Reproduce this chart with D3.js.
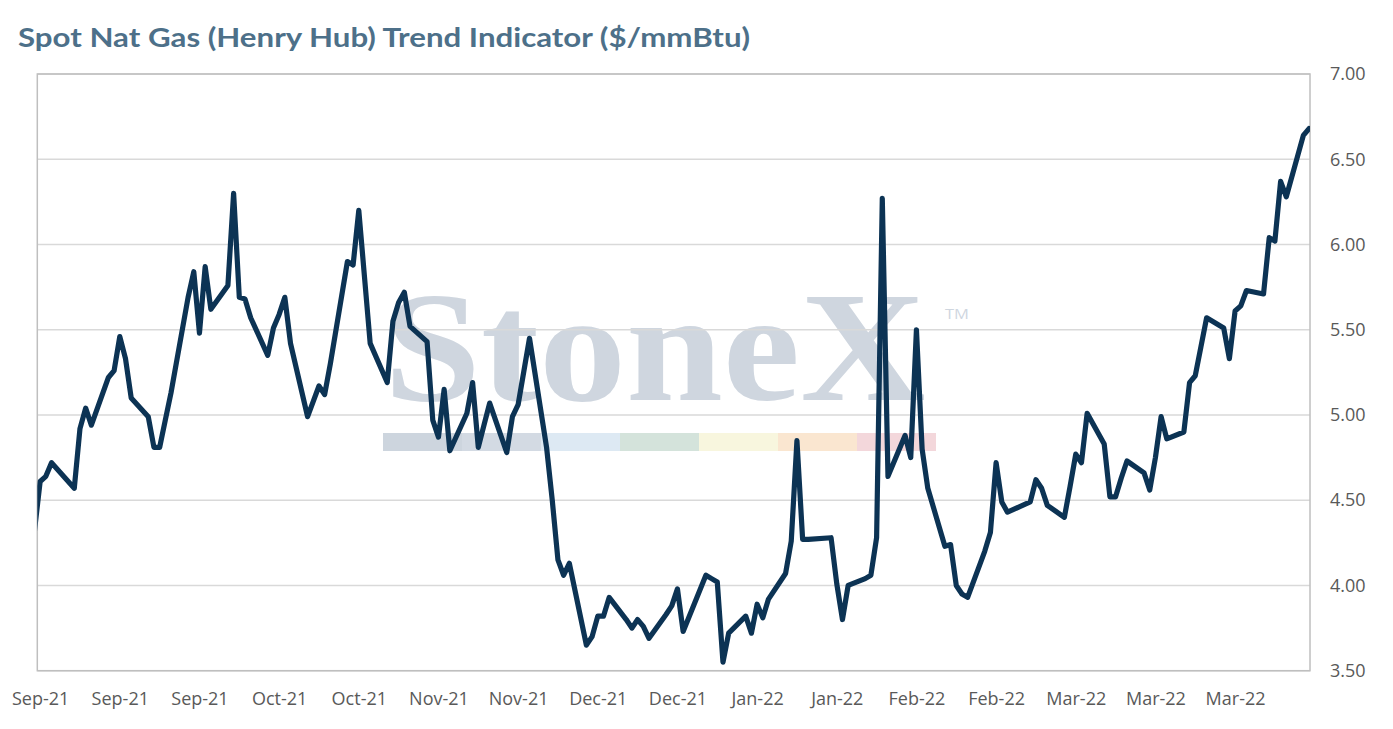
<!DOCTYPE html>
<html>
<head>
<meta charset="utf-8">
<script src="https://cdn.jsdelivr.net/npm/d3@7"></script>
<style>
  body { margin: 0; background: #fff; }
  text { font-family: "Open Sans", sans-serif; }
</style>
</head>
<body>
<svg id="chart" width="1393" height="729"></svg>
<script>
// Henry Hub spot (trading days only)
const dates = [
  "2021-08-31", "2021-09-01", "2021-09-02", "2021-09-03", "2021-09-07", "2021-09-08", "2021-09-09", "2021-09-10",
  "2021-09-13", "2021-09-14", "2021-09-15", "2021-09-16", "2021-09-17", "2021-09-20", "2021-09-21", "2021-09-22",
  "2021-09-23", "2021-09-24", "2021-09-27", "2021-09-28", "2021-09-29", "2021-09-30", "2021-10-01", "2021-10-04",
  "2021-10-05", "2021-10-06", "2021-10-07", "2021-10-08", "2021-10-11", "2021-10-12", "2021-10-13", "2021-10-14",
  "2021-10-15", "2021-10-18", "2021-10-19", "2021-10-20", "2021-10-21", "2021-10-22", "2021-10-25", "2021-10-26",
  "2021-10-27", "2021-10-28", "2021-10-29", "2021-11-01", "2021-11-02", "2021-11-03", "2021-11-04", "2021-11-05",
  "2021-11-08", "2021-11-09", "2021-11-10", "2021-11-11", "2021-11-12", "2021-11-15", "2021-11-16", "2021-11-17",
  "2021-11-18", "2021-11-19", "2021-11-22", "2021-11-23", "2021-11-24", "2021-11-26", "2021-11-29", "2021-11-30",
  "2021-12-01", "2021-12-02", "2021-12-03", "2021-12-06", "2021-12-07", "2021-12-08", "2021-12-09", "2021-12-10",
  "2021-12-13", "2021-12-14", "2021-12-15", "2021-12-16", "2021-12-17", "2021-12-20", "2021-12-21", "2021-12-22",
  "2021-12-23", "2021-12-27", "2021-12-28", "2021-12-29", "2021-12-30", "2021-12-31", "2022-01-03", "2022-01-04",
  "2022-01-05", "2022-01-06", "2022-01-07", "2022-01-10", "2022-01-11", "2022-01-12", "2022-01-13", "2022-01-14",
  "2022-01-18", "2022-01-19", "2022-01-20", "2022-01-21", "2022-01-24", "2022-01-25", "2022-01-26", "2022-01-27",
  "2022-01-28", "2022-01-31", "2022-02-01", "2022-02-02", "2022-02-03", "2022-02-04", "2022-02-07", "2022-02-08",
  "2022-02-09", "2022-02-10", "2022-02-11", "2022-02-14", "2022-02-15", "2022-02-16", "2022-02-17", "2022-02-18",
  "2022-02-22", "2022-02-23", "2022-02-24", "2022-02-25", "2022-02-28", "2022-03-01", "2022-03-02", "2022-03-03",
  "2022-03-04", "2022-03-07", "2022-03-08", "2022-03-09", "2022-03-10", "2022-03-11", "2022-03-14", "2022-03-15",
  "2022-03-16", "2022-03-17", "2022-03-18", "2022-03-21", "2022-03-22", "2022-03-23", "2022-03-24", "2022-03-25",
  "2022-03-28", "2022-03-29", "2022-03-30", "2022-03-31", "2022-04-01", "2022-04-04", "2022-04-05", "2022-04-06",
  "2022-04-07", "2022-04-08", "2022-04-11", "2022-04-12"
];
const prices = [
  4.32, 4.61, 4.64, 4.72, 4.57, 4.92, 5.04, 4.94,
  5.22, 5.26, 5.46, 5.33, 5.10, 4.99, 4.81, 4.81,
  4.97, 5.13, 5.69, 5.84, 5.48, 5.87, 5.62, 5.76,
  6.30, 5.69, 5.68, 5.57, 5.35, 5.51, 5.59, 5.69,
  5.42, 4.99, 5.08, 5.17, 5.12, 5.30, 5.90, 5.88,
  6.20, 5.81, 5.42, 5.19, 5.55, 5.66, 5.72, 5.52,
  5.43, 4.97, 4.87, 5.15, 4.79, 5.01, 5.19, 4.81,
  4.94, 5.07, 4.78, 4.99, 5.06, 5.45, 4.81, 4.50,
  4.15, 4.06, 4.13, 3.65, 3.70, 3.82, 3.82, 3.93,
  3.80, 3.75, 3.80, 3.76, 3.69, 3.83, 3.88, 3.98,
  3.73, 4.06, 4.04, 4.02, 3.55, 3.72, 3.82, 3.72,
  3.89, 3.81, 3.92, 4.07, 4.26, 4.85, 4.27, 4.27,
  4.28, 4.01, 3.80, 4.00, 4.04, 4.06, 4.28, 6.27,
  4.64, 4.88, 4.75, 5.50, 4.80, 4.57, 4.23, 4.24,
  4.00, 3.95, 3.93, 4.20, 4.31, 4.72, 4.49, 4.43,
  4.49, 4.62, 4.57, 4.47, 4.40, 4.58, 4.77, 4.72,
  5.01, 4.83, 4.52, 4.52, 4.63, 4.73, 4.66, 4.56,
  4.75, 4.99, 4.86, 4.90, 5.19, 5.23, 5.40, 5.57,
  5.51, 5.33, 5.61, 5.64, 5.73, 5.71, 6.04, 6.02,
  6.37, 6.28, 6.64, 6.68
];
const yTicks = [3.5, 4, 4.5, 5, 5.5, 6, 6.5, 7];
const title = "Spot Nat Gas (Henry Hub) Trend Indicator ($/mmBtu)";
const bandColors = ["#cdd5de", "#d3dae3", "#dde9f3", "#d4e3db", "#f8f6de", "#fae6d0", "#f3d7db"];

const width = 1393;
const height = 729;
const margin = { top: 74, right: 83, bottom: 58.3, left: 37.3 };
const parse = d3.utcParse("%Y-%m-%d");
const data = dates.map((d, i) => ({ date: parse(d), value: prices[i] }));

const svg = d3.select("#chart").attr("viewBox", [0, 0, width, height]);

const x = d3
  .scaleUtc()
  .domain([new Date(Date.UTC(2021, 7, 31, 12)), new Date(Date.UTC(2022, 3, 12, 4))])
  .range([margin.left, width - margin.right]);
const y = d3
  .scaleLinear()
  .domain([3.5, 7])
  .range([height - margin.bottom, margin.top]);

svg.append("rect").attr("width", width).attr("height", height).attr("fill", "#fff");

// title
svg
  .append("text")
  .attr("x", 18)
  .attr("y", 47)
  .attr("textLength", 732)
  .attr("lengthAdjust", "spacingAndGlyphs")
  .style("font-family", "Lato, sans-serif")
  .style("font-weight", 700)
  .style("font-size", "26.5px")
  .attr("fill", "#4d7089")
  .text(title);

// watermark (sits under the gridlines)
const mark = svg.append("g").attr("class", "watermark");
mark
  .append("text")
  .attr("x", 384)
  .attr("y", 400)
  .attr("textLength", 542)
  .attr("lengthAdjust", "spacingAndGlyphs")
  .style("font-family", "'Liberation Serif', serif")
  .style("font-weight", 700)
  .style("font-size", "156px")
  .attr("fill", "#cfd6df")
  .text("StoneX");
mark
  .append("text")
  .attr("x", 945)
  .attr("y", 319)
  .attr("textLength", 24)
  .attr("lengthAdjust", "spacingAndGlyphs")
  .style("font-size", "15px")
  .attr("fill", "#cfd6df")
  .text("TM");
mark
  .selectAll("rect")
  .data(bandColors)
  .join("rect")
  .attr("x", (d, i) => 383 + i * 79)
  .attr("y", 433)
  .attr("width", 79)
  .attr("height", 18)
  .attr("fill", (d) => d);

// gridlines
svg
  .append("g")
  .selectAll("line")
  .data(yTicks)
  .join("line")
  .attr("x1", margin.left)
  .attr("x2", width - margin.right)
  .attr("y1", (d) => y(d))
  .attr("y2", (d) => y(d))
  .attr("stroke", "#d9d9d9")
  .attr("stroke-width", 1.5);

// plot border
svg
  .append("rect")
  .attr("x", margin.left)
  .attr("y", margin.top)
  .attr("width", width - margin.left - margin.right)
  .attr("height", height - margin.top - margin.bottom)
  .attr("fill", "none")
  .attr("stroke", "#bfbfbf")
  .attr("stroke-width", 1.5);

// axes
const xAxis = svg
  .append("g")
  .attr("transform", `translate(0,${height - margin.bottom})`)
  .call(
    d3
      .axisBottom(x)
      .tickValues(d3.utcDay.range(parse("2021-09-01"), x.domain()[1], 14))
      .tickFormat(d3.utcFormat("%b-%y"))
      .tickSize(0)
      .tickPadding(22)
  );
const yAxis = svg
  .append("g")
  .attr("transform", `translate(${width - margin.right},0)`)
  .call(d3.axisRight(y).tickValues(yTicks).tickFormat(d3.format(".2f")).tickSize(0).tickPadding(20));

[xAxis, yAxis].forEach((g) => {
  g.select(".domain").remove();
  g.selectAll("text")
    .style("font-family", "'Open Sans', sans-serif")
    .style("font-size", "18px")
    .attr("fill", "#595959");
});

// series
svg
  .append("clipPath")
  .attr("id", "plot-clip")
  .append("rect")
  .attr("x", margin.left)
  .attr("y", margin.top - 10)
  .attr("width", width - margin.left - margin.right)
  .attr("height", height - margin.top - margin.bottom + 20);

const line = d3
  .line()
  .x((d) => x(d.date))
  .y((d) => y(d.value));

svg
  .append("path")
  .datum(data)
  .attr("clip-path", "url(#plot-clip)")
  .attr("d", line)
  .attr("fill", "none")
  .attr("stroke", "#0c3354")
  .attr("stroke-width", 5.2)
  .attr("stroke-linejoin", "round")
  .attr("stroke-linecap", "round");
</script>
</body>
</html>
